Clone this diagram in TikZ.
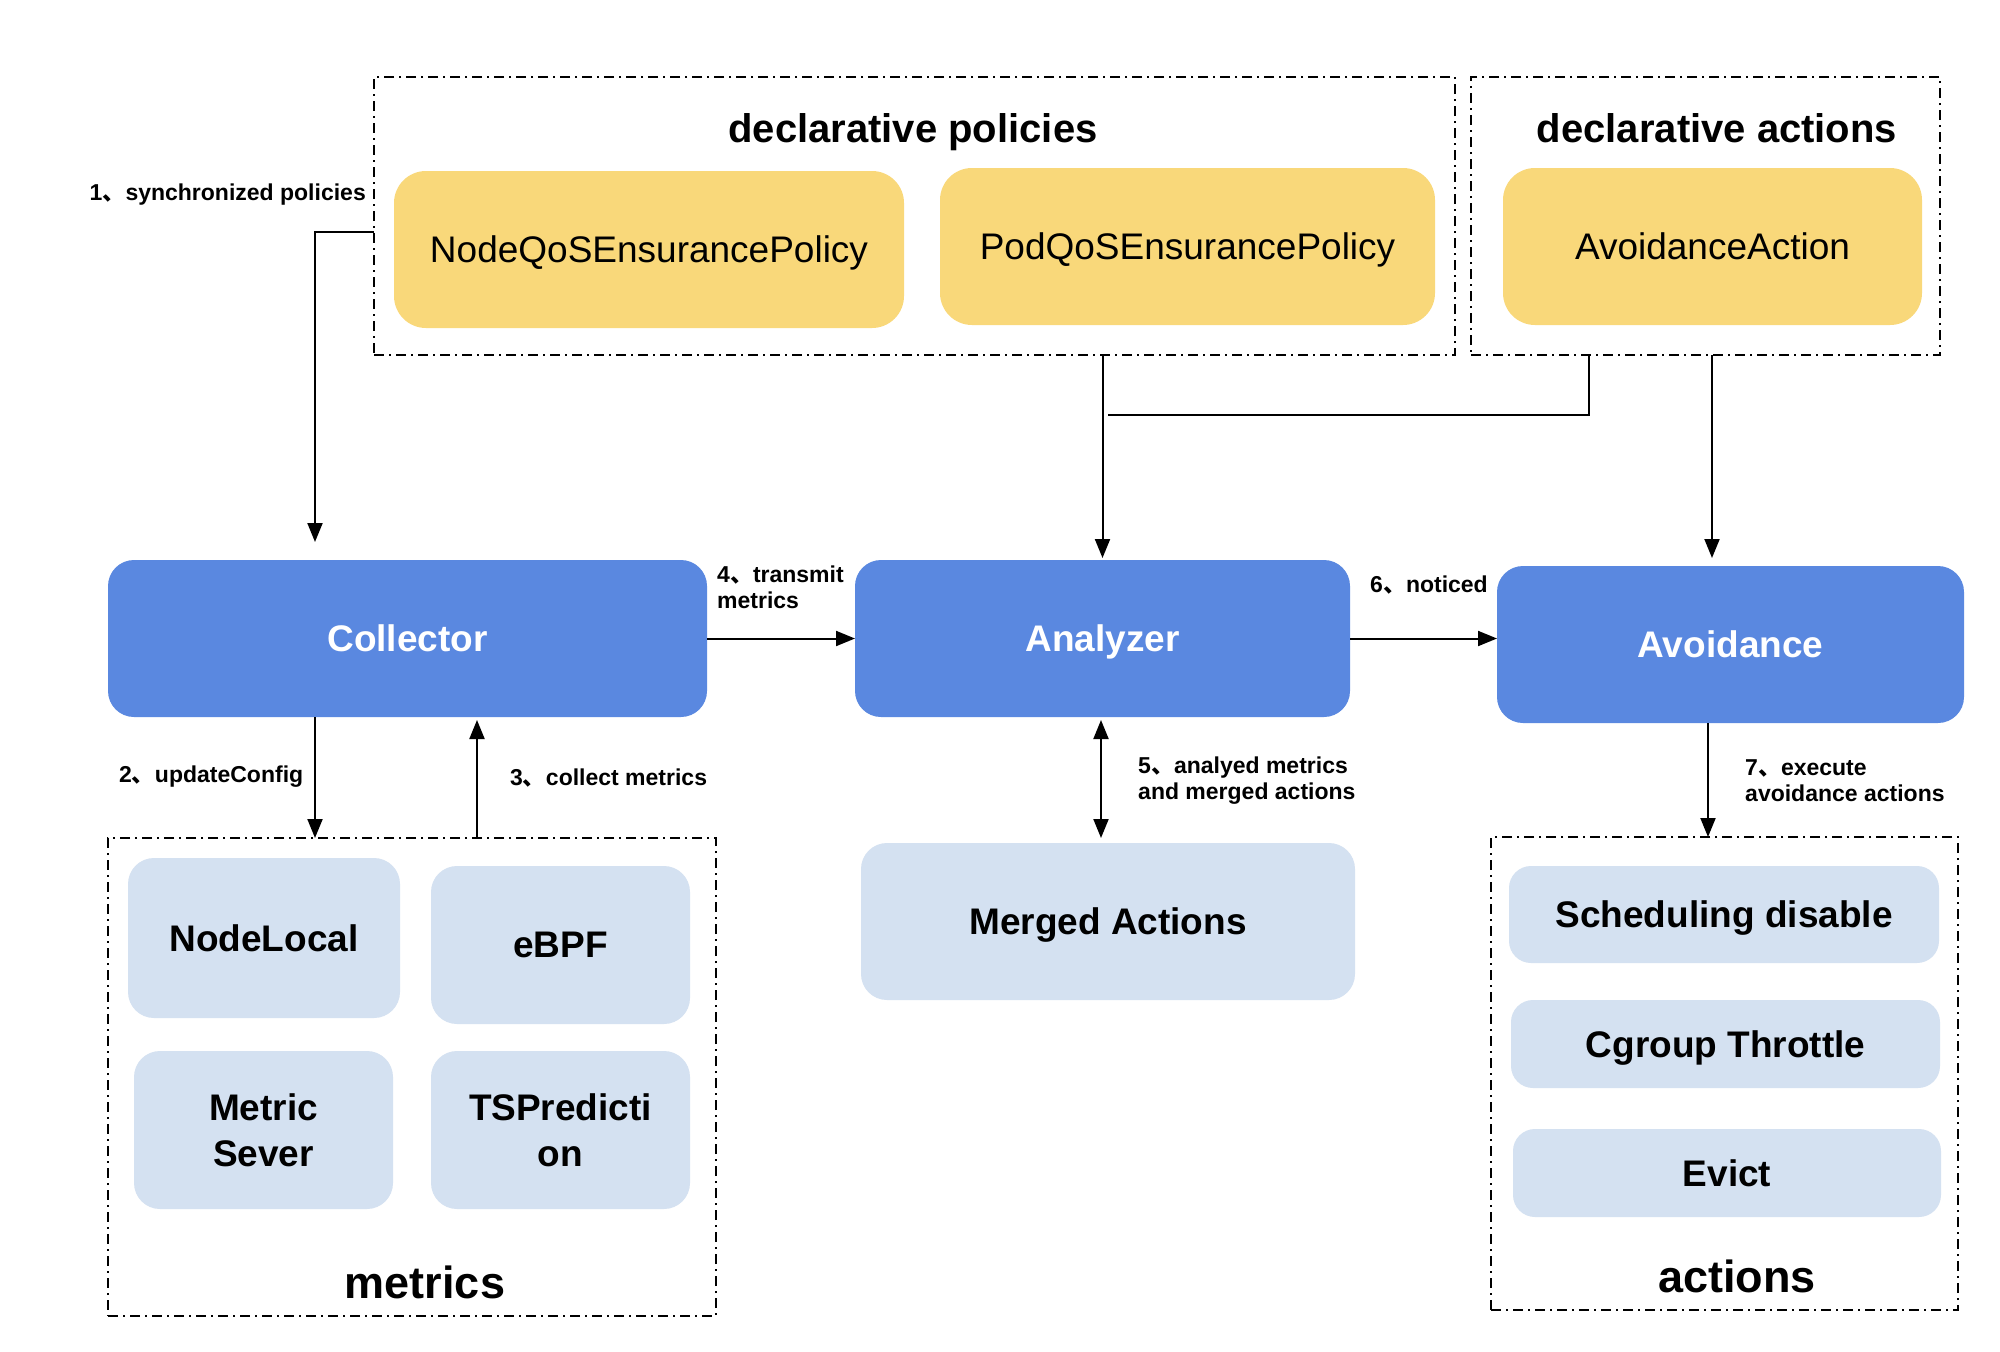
\documentclass[tikz,border=0pt]{standalone}
\usepackage{fontspec}
\setmainfont{Liberation Sans}
\newfontfamily\cjk{Noto Sans CJK SC}
\newcommand{\dun}{{\cjk 、}}
\usetikzlibrary{arrows.meta}
\definecolor{ylw}{HTML}{F9D87A}
\definecolor{blu}{HTML}{5A88E0}
\definecolor{lbl}{HTML}{D4E1F1}
\tikzset{
  box/.style={rectangle, rounded corners=#1, inner sep=0pt, outer sep=0pt, align=center, text depth=0pt},
  ybox/.style={box=32pt, fill=ylw, font=\fontsize{37}{44}\selectfont},
  bbox/.style={box=26pt, fill=blu, text=white, font=\bfseries\fontsize{37}{44}\selectfont},
  lbox/.style={box=26pt, fill=lbl, font=\bfseries\fontsize{37}{46}\selectfont},
  dbox/.style={rectangle, draw, line width=2pt, dash pattern=on 10pt off 5pt on 2pt off 5pt, inner sep=0pt, outer sep=0pt},
  ttl/.style={font=\bfseries\fontsize{40}{48}\selectfont, inner sep=0pt, text depth=0pt},
  btl/.style={font=\bfseries\fontsize{45}{54}\selectfont, inner sep=0pt, text depth=0pt},
  lab/.style={font=\bfseries\fontsize{23}{26}\selectfont, inner sep=0pt, align=left},
  arr/.style={line width=2pt, -{Triangle[length=19pt,width=15pt]}},
  darr/.style={line width=2pt, {Triangle[length=19pt,width=15pt]}-{Triangle[length=19pt,width=15pt]}},
  ln/.style={line width=2pt}
}
\begin{document}
\begin{tikzpicture}[x=1pt,y=-1pt]
\path[use as bounding box, fill=white] (0,0) rectangle (2000,1352);

% dashed group boxes
\node[dbox, minimum width=1081pt, minimum height=278pt] (decpol) at (914.5,216) {};
\node[dbox, minimum width=469pt, minimum height=278pt] (decact) at (1705.5,216) {};
\node[dbox, minimum width=608pt, minimum height=478pt] (metbox) at (412,1077) {};
\node[dbox, minimum width=467pt, minimum height=473pt] (actbox) at (1724.5,1073.5) {};

% titles
\node[ttl] (tpol) at (913,128) {declarative policies};
\node[ttl] (tact) at (1717,128) {declarative actions};
\node[btl] (tmet) at (425,1282) {metrics};
\node[btl] (tacts) at (1737,1276) {actions};

% yellow policies
\node[ybox, minimum width=510pt, minimum height=157pt] (nodeqos) at (649,249.5) {NodeQoSEnsurancePolicy};
\node[ybox, minimum width=495pt, minimum height=157pt] (podqos) at (1187.5,246.5) {PodQoSEnsurancePolicy};
\node[ybox, minimum width=419pt, minimum height=157pt] (avact) at (1712.5,246.5) {AvoidanceAction};

% blue components
\node[bbox, minimum width=599pt, minimum height=157pt] (coll) at (407.5,638.5) {Collector};
\node[bbox, minimum width=495pt, minimum height=157pt] (ana) at (1102.5,638.5) {Analyzer};
\node[bbox, minimum width=467pt, minimum height=157pt] (avoid) at (1730.5,644.5) {Avoidance};

% light boxes
\node[lbox, minimum width=272pt, minimum height=160pt] (nodelocal) at (264,938) {NodeLocal};
\node[lbox, minimum width=259pt, minimum height=158pt] (ebpf) at (560.5,945) {eBPF};
\node[lbox, minimum width=259pt, minimum height=158pt] (metsrv) at (263.5,1130) {Metric\\Sever};
\node[lbox, minimum width=259pt, minimum height=158pt] (tspred) at (560.5,1130) {TSPredicti\\on};
\node[lbox, minimum width=494pt, minimum height=157pt] (merged) at (1108,921.5) {Merged Actions};
\node[lbox, box=22pt, minimum width=430pt, minimum height=97pt] (sched) at (1724,914.5) {Scheduling disable};
\node[lbox, box=22pt, minimum width=429pt, minimum height=88pt] (cgroup) at (1725.5,1044) {Cgroup Throttle};
\node[lbox, box=22pt, minimum width=428pt, minimum height=88pt] (evict) at (1727,1173) {Evict};

% helper coordinates
\coordinate (s1) at (315,232);
\coordinate (xupd) at (315,0);
\coordinate (xcol) at (477,0);
\coordinate (xana) at (1101,0);
\coordinate (j1) at (1589,415);
\coordinate (j2) at (1108,415);
\coordinate (xav) at (1712,0);
\coordinate (xex) at (1708,0);

% connectors
\draw[arr, shorten >=18pt] (decpol.west |- s1) -- (s1) -- (s1 |- coll.north);
\draw[arr] (coll.south -| xupd) -- (metbox.north -| xupd);
\draw[arr, shorten >=3pt] (metbox.north -| xcol) -- (coll.south -| xcol);
\draw[arr] (coll.east) -- (ana.west);
\draw[arr] (ana.east) -- (ana.east -| avoid.west);
\draw[darr, shorten <=3pt, shorten >=5pt] (ana.south -| xana) -- (merged.north -| xana);
\draw[arr, shorten >=2pt] (decpol.south -| ana.north) -- (ana.north);
\draw[ln] (decact.south -| j1) -- (j1) -- (j2);
\draw[arr, shorten >=8pt] (decact.south -| xav) -- (avoid.north -| xav);
\draw[arr] (avoid.south -| xex) -- (actbox.north -| xex);

% labels
\node[lab, anchor=east] (l1) at (366,195) {1\dun synchronized policies};
\node[lab, anchor=west] (l2) at (119,777) {2\dun updateConfig};
\node[lab, anchor=west] (l3) at (510,778) {3\dun collect metrics};
\node[lab, anchor=west] (l4) at (717,587) {4\dun transmit\\metrics};
\node[lab, anchor=west] (l5) at (1138,781) {5\dun analyed metrics\\and merged actions};
\node[lab, anchor=west] (l6) at (1370,585) {6\dun noticed};
\node[lab, anchor=west] (l7) at (1745,781) {7\dun execute\\avoidance actions};
\end{tikzpicture}
\end{document}
